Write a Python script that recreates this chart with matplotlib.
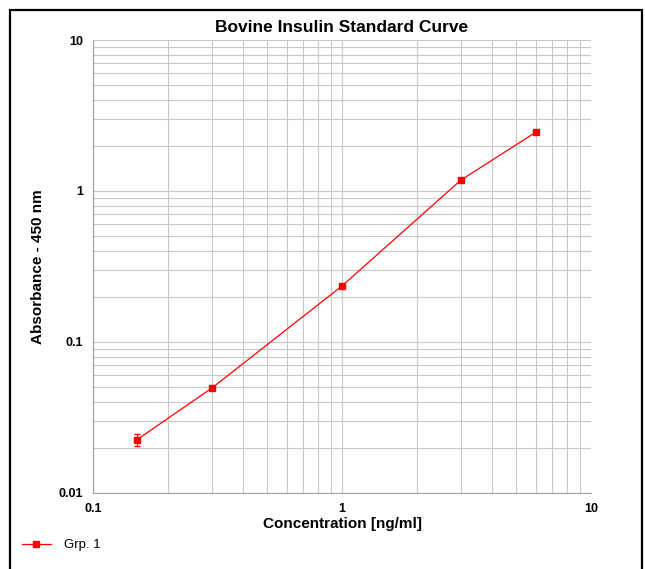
import matplotlib
matplotlib.use("Agg")
import matplotlib.pyplot as plt
from matplotlib.patches import Rectangle
from matplotlib.lines import Line2D
from matplotlib.ticker import LogLocator, FixedLocator, FixedFormatter, NullFormatter

plt.rcParams['font.family'] = ['Liberation Sans', 'DejaVu Sans']

conc = [0.15, 0.3, 1.0, 3.0, 6.0]
absorb = [0.0225, 0.0495, 0.235, 1.18, 2.45]
err = [0.002, 0.0, 0.0, 0.0, 0.0]
ticks = [0.1, 1, 10]
tick_labels = ['0.1', '1', '10']
yticks = [0.01, 0.1, 1, 10]
ytick_labels = ['0.01', '0.1', '1', '10']

fig = plt.figure(figsize=(6.45, 5.69), dpi=100)
# outer frame, runs off the bottom edge like the original screenshot
fig.patches.append(Rectangle((10 / 645, -10 / 569), 632 / 645, 569 / 569,
                             transform=fig.transFigure, fill=False,
                             edgecolor='black', linewidth=1.6))

ax = fig.add_axes([0.1442, 0.1336, 0.7721, 0.7961])
ax.set_xscale('log')
ax.set_yscale('log')
ax.set_xlim(0.1, 10)
ax.set_ylim(0.01, 10)

ax.errorbar(conc, absorb, yerr=err, color='#ff0000', lw=0.9, marker='s',
            ms=5, capsize=2, elinewidth=0.8, zorder=3)

ax.xaxis.set_major_locator(FixedLocator(ticks))
ax.xaxis.set_major_formatter(FixedFormatter(tick_labels))
ax.yaxis.set_major_locator(FixedLocator(yticks))
ax.yaxis.set_major_formatter(FixedFormatter(ytick_labels))
for a in (ax.xaxis, ax.yaxis):
    a.set_minor_locator(LogLocator(base=10, subs=range(2, 10)))
    a.set_minor_formatter(NullFormatter())
ax.grid(True, which='both', color='#c8c8c8', lw=0.8)
ax.tick_params(which='both', length=0, labelsize=9, pad=7)
for lab in ax.get_xticklabels() + ax.get_yticklabels():
    lab.set_fontweight('bold')

for s in ('top', 'right'):
    ax.spines[s].set_visible(False)
for s in ('left', 'bottom'):
    ax.spines[s].set_color('#a0a0a0')

ax.set_title('Bovine Insulin Standard Curve', fontsize=12.5, fontweight='bold', pad=6)
ax.set_xlabel('Concentration [ng/ml]', fontsize=11, fontweight='bold', labelpad=2)
ax.set_ylabel('Absorbance - 450 nm', fontsize=11, fontweight='bold', labelpad=10)

handle = Line2D([], [], color='#ff0000', lw=0.9, marker='s', ms=4)
fig.legend([handle], ['Grp. 1'], loc='center left', bbox_to_anchor=(0.015, 0.042),
           frameon=False, fontsize=9.5, handlelength=2.2, handletextpad=1.0)

fig.savefig('out.png', dpi=100)
